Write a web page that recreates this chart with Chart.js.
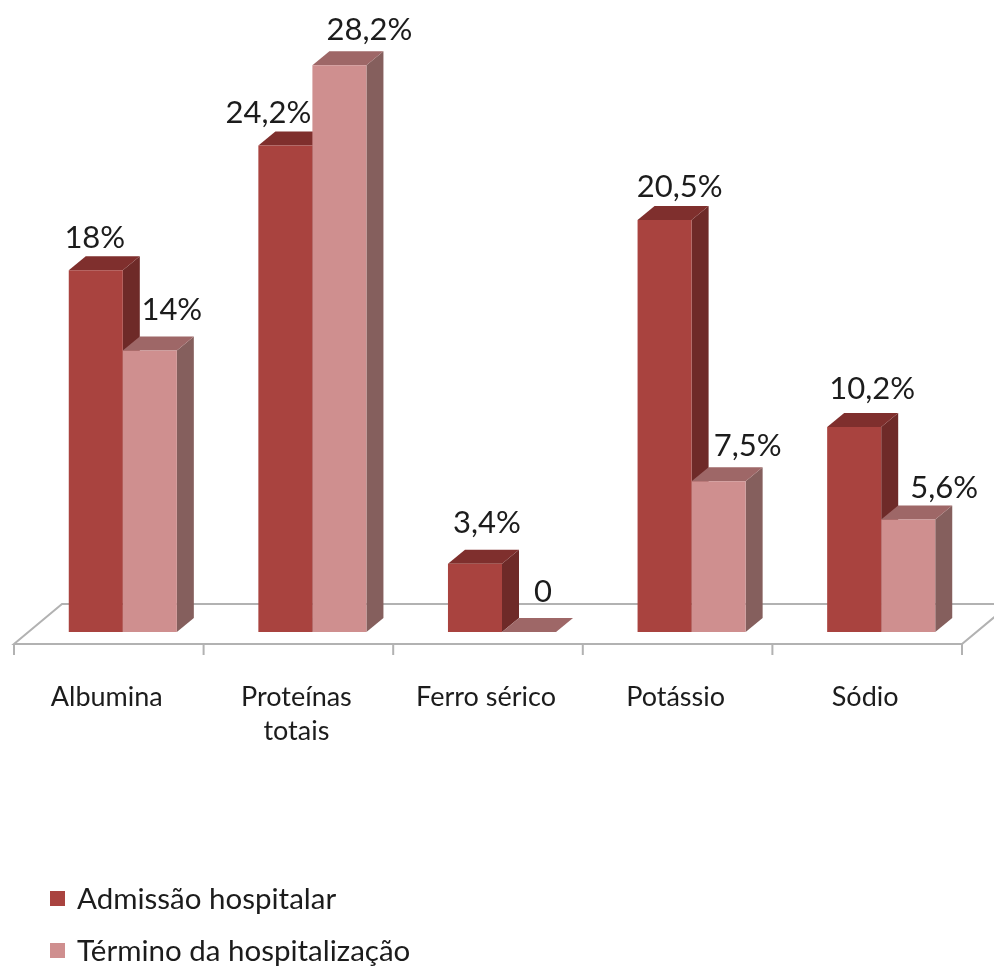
<!DOCTYPE html>
<html lang="pt">
<head>
<meta charset="utf-8">
<title>Admissão e término da hospitalização</title>
<script src="https://cdn.jsdelivr.net/npm/chart.js@4"></script>
<style>
    html, body { margin: 0; padding: 0; background: #fff; }
    #wrap { width: 994px; height: 966px; }
</style>
</head>
<body>
<div id="wrap"><canvas id="chart" width="994" height="966"></canvas></div>
<script>
const categories = ['Albumina', ['Proteínas', 'totais'], 'Ferro sérico', 'Potássio', 'Sódio'];
const admissao = [18, 24.2, 3.4, 20.5, 10.2];
const termino = [14, 28.2, 0, 7.5, 5.6];
const seriesNames = ['Admissão hospitalar', 'Término da hospitalização'];

const FONT = 'Lato';
const COLORS = [
    { front: '#a9433f', side: '#6e2a28', top: '#7f2f2d' },
    { front: '#cf8f8f', side: '#855f5d', top: '#9e6767' }
];
const DEPTH_X = 17;
const DEPTH_Y = 14;
// the value labels sit unevenly in the picture, so they are nudged one by one
const labelShift = [
    [[-1, -32], [-17, -33], [12, -41], [15, -33], [18, -38]],
    [[22, -41], [30, -35], [14, -40], [29, -35], [36, -31]]
];

function formatValue(v) {
    return v === 0 ? '0' : String(v).replace('.', ',') + '%';
}

function poly(ctx, pts, color) {
    ctx.fillStyle = color;
    ctx.beginPath();
    pts.forEach((p, i) => i ? ctx.lineTo(p[0], p[1]) : ctx.moveTo(p[0], p[1]));
    ctx.closePath();
    ctx.fill();
}

// floor, tick marks and the 3D faces go behind the bars
const floor3d = {
    id: 'floor3d',
    beforeDatasetsDraw(chart) {
        const { ctx, scales: { x, y } } = chart;
        const base = y.getPixelForValue(0);
        const left = x.left - 14;
        const right = x.right - 14;
        const front = base + 12;

        ctx.save();
        ctx.strokeStyle = '#b2b2b2';
        ctx.lineWidth = 2;
        ctx.beginPath();
        ctx.moveTo(left, front);
        ctx.lineTo(right, front);
        ctx.lineTo(right + 48, front - 40);
        ctx.lineTo(left + 48, front - 40);
        ctx.closePath();
        for (let i = 0; i <= categories.length; i++) {
            const tx = left + i * (right - left) / categories.length;
            ctx.moveTo(tx, front);
            ctx.lineTo(tx, front + 11);
        }
        ctx.stroke();

        chart.data.datasets.forEach((ds, d) => {
            chart.getDatasetMeta(d).data.forEach(bar => {
                const l = bar.x - bar.width / 2;
                const r = bar.x + bar.width / 2;
                poly(ctx, [[r, bar.y], [r + DEPTH_X, bar.y - DEPTH_Y], [r + DEPTH_X, base - DEPTH_Y], [r, base]], COLORS[d].side);
                poly(ctx, [[l, bar.y], [l + DEPTH_X, bar.y - DEPTH_Y], [r + DEPTH_X, bar.y - DEPTH_Y], [r, bar.y]], COLORS[d].top);
            });
        });
        ctx.restore();
    },
    afterDatasetsDraw(chart) {
        const { ctx } = chart;
        ctx.save();
        ctx.fillStyle = '#1c1c1c';
        ctx.textAlign = 'center';
        ctx.textBaseline = 'middle';
        ctx.font = '31px ' + FONT;
        chart.data.datasets.forEach((ds, d) => {
            chart.getDatasetMeta(d).data.forEach((bar, i) => {
                const s = labelShift[d][i];
                ctx.fillText(formatValue(ds.data[i]), bar.x + s[0], bar.y + s[1]);
            });
        });

        // legend stacked under the axis
        ctx.textAlign = 'left';
        ctx.font = '29.5px ' + FONT;
        chart.data.datasets.forEach((ds, d) => {
            const rowY = 899 + d * 52;
            ctx.fillStyle = COLORS[d].front;
            ctx.fillRect(50, rowY - 8, 15, 15);
            ctx.fillStyle = '#1c1c1c';
            ctx.fillText(ds.label, 77, rowY);
        });
        ctx.restore();
    }
};

new Chart(document.getElementById('chart').getContext('2d'), {
    type: 'bar',
    data: {
        labels: categories,
        datasets: [
            { label: seriesNames[0], data: admissao, backgroundColor: COLORS[0].front },
            { label: seriesNames[1], data: termino, backgroundColor: COLORS[1].front }
        ]
    },
    options: {
        responsive: false,
        animation: false,
        layout: { padding: { left: 28, right: 18, top: 29, bottom: 0 } },
        datasets: { bar: { categoryPercentage: 0.57, barPercentage: 1 } },
        plugins: { legend: { display: false }, tooltip: { enabled: false } },
        scales: {
            y: { display: false, min: 0, max: 30 },
            x: {
                grid: { display: false },
                border: { display: false },
                afterFit: scale => { scale.height = 334; },
                ticks: {
                    color: '#1c1c1c',
                    padding: 40,
                    labelOffset: -16,
                    maxRotation: 0,
                    autoSkip: false,
                    font: { family: FONT, size: 27, lineHeight: 1.27 }
                }
            }
        }
    },
    plugins: [floor3d]
});
</script>
</body>
</html>
